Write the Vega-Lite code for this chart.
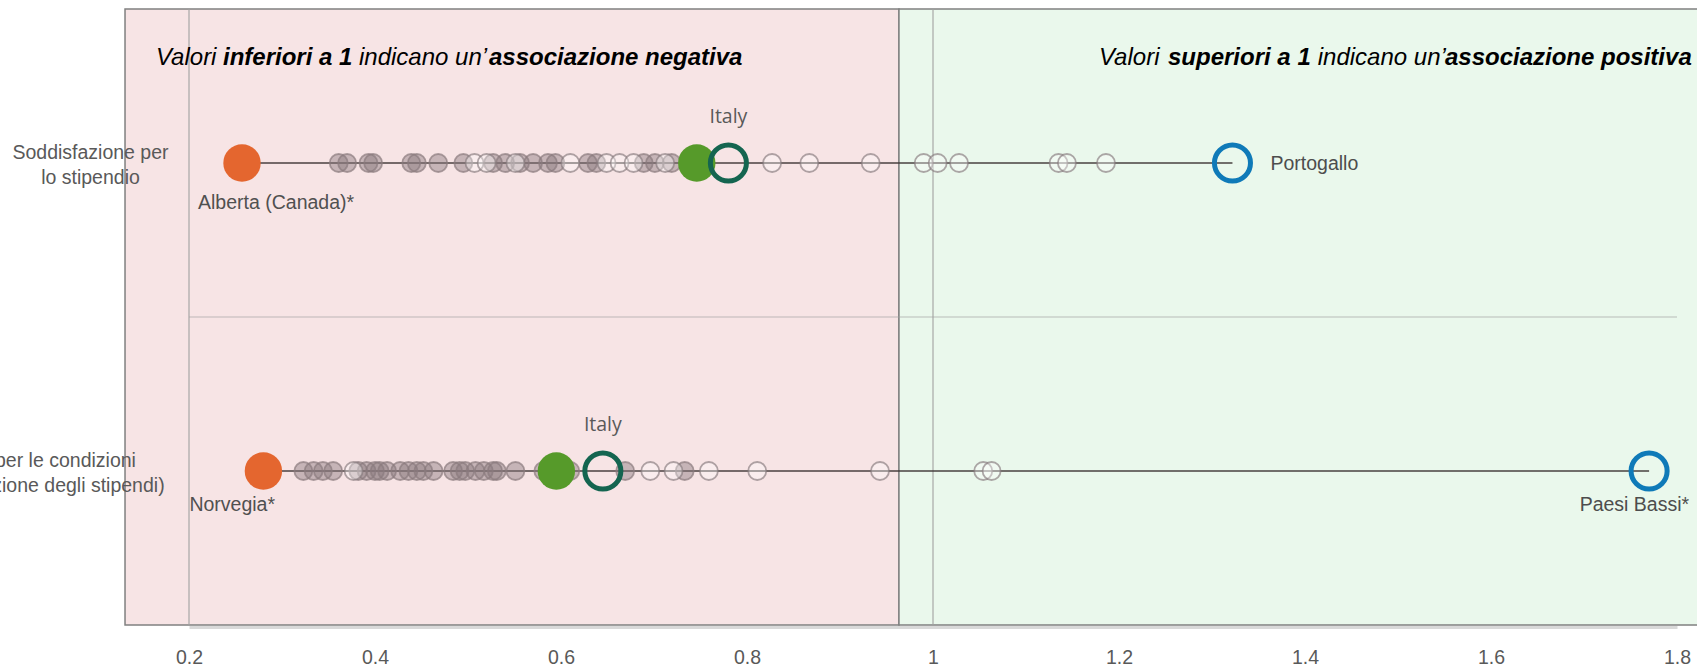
{
  "$schema": "https://vega.github.io/schema/vega-lite/v6.json",
  "width": 1488,
  "height": 616,
  "autosize": {"type": "none"},
  "padding": {"left": 189, "top": 9, "right": 20, "bottom": 43},
  "background": "white",
  "config": {"view": {"stroke": null}, "font": "Liberation Sans"},
  "datasets": {
    "zone": [
      {"zona": "negativa", "da": 0.1312, "a": 0.9634},
      {"zona": "positiva", "da": 0.9634, "a": 1.84}
    ],
    "griglia": [{"v": 0.2}, {"v": 1}],
    "punti": [
      {"riga": "stipendio", "paese": "Alberta (Canada)*", "valore": 0.257, "tipo": "min"},
      {"riga": "stipendio", "paese": "Media OCSE", "valore": 0.746, "tipo": "media"},
      {"riga": "stipendio", "paese": "Italy", "valore": 0.780, "tipo": "italy"},
      {"riga": "stipendio", "paese": "Portogallo", "valore": 1.322, "tipo": "max"},
      {"riga": "stipendio", "valore": 0.361, "tipo": "sig"},
      {"riga": "stipendio", "valore": 0.370, "tipo": "sig"},
      {"riga": "stipendio", "valore": 0.393, "tipo": "sig"},
      {"riga": "stipendio", "valore": 0.398, "tipo": "sig"},
      {"riga": "stipendio", "valore": 0.439, "tipo": "sig"},
      {"riga": "stipendio", "valore": 0.445, "tipo": "sig"},
      {"riga": "stipendio", "valore": 0.468, "tipo": "sig"},
      {"riga": "stipendio", "valore": 0.495, "tipo": "sig"},
      {"riga": "stipendio", "valore": 0.527, "tipo": "sig"},
      {"riga": "stipendio", "valore": 0.540, "tipo": "sig"},
      {"riga": "stipendio", "valore": 0.556, "tipo": "sig"},
      {"riga": "stipendio", "valore": 0.570, "tipo": "sig"},
      {"riga": "stipendio", "valore": 0.586, "tipo": "sig"},
      {"riga": "stipendio", "valore": 0.594, "tipo": "sig"},
      {"riga": "stipendio", "valore": 0.629, "tipo": "sig"},
      {"riga": "stipendio", "valore": 0.638, "tipo": "sig"},
      {"riga": "stipendio", "valore": 0.689, "tipo": "sig"},
      {"riga": "stipendio", "valore": 0.701, "tipo": "sig"},
      {"riga": "stipendio", "valore": 0.719, "tipo": "sig"},
      {"riga": "stipendio", "valore": 0.507, "tipo": "ns"},
      {"riga": "stipendio", "valore": 0.520, "tipo": "ns"},
      {"riga": "stipendio", "valore": 0.551, "tipo": "ns"},
      {"riga": "stipendio", "valore": 0.610, "tipo": "ns"},
      {"riga": "stipendio", "valore": 0.649, "tipo": "ns"},
      {"riga": "stipendio", "valore": 0.663, "tipo": "ns"},
      {"riga": "stipendio", "valore": 0.678, "tipo": "ns"},
      {"riga": "stipendio", "valore": 0.712, "tipo": "ns"},
      {"riga": "stipendio", "valore": 0.827, "tipo": "ns"},
      {"riga": "stipendio", "valore": 0.867, "tipo": "ns"},
      {"riga": "stipendio", "valore": 0.933, "tipo": "ns"},
      {"riga": "stipendio", "valore": 0.990, "tipo": "ns"},
      {"riga": "stipendio", "valore": 1.005, "tipo": "ns"},
      {"riga": "stipendio", "valore": 1.028, "tipo": "ns"},
      {"riga": "stipendio", "valore": 1.135, "tipo": "ns"},
      {"riga": "stipendio", "valore": 1.144, "tipo": "ns"},
      {"riga": "stipendio", "valore": 1.186, "tipo": "ns"},
      {"riga": "condizioni", "paese": "Norvegia*", "valore": 0.280, "tipo": "min"},
      {"riga": "condizioni", "paese": "Media OCSE", "valore": 0.595, "tipo": "media"},
      {"riga": "condizioni", "paese": "Italy", "valore": 0.645, "tipo": "italy"},
      {"riga": "condizioni", "paese": "Paesi Bassi*", "valore": 1.770, "tipo": "max"},
      {"riga": "condizioni", "valore": 0.323, "tipo": "sig"},
      {"riga": "condizioni", "valore": 0.334, "tipo": "sig"},
      {"riga": "condizioni", "valore": 0.344, "tipo": "sig"},
      {"riga": "condizioni", "valore": 0.355, "tipo": "sig"},
      {"riga": "condizioni", "valore": 0.382, "tipo": "sig"},
      {"riga": "condizioni", "valore": 0.391, "tipo": "sig"},
      {"riga": "condizioni", "valore": 0.400, "tipo": "sig"},
      {"riga": "condizioni", "valore": 0.405, "tipo": "sig"},
      {"riga": "condizioni", "valore": 0.413, "tipo": "sig"},
      {"riga": "condizioni", "valore": 0.427, "tipo": "sig"},
      {"riga": "condizioni", "valore": 0.436, "tipo": "sig"},
      {"riga": "condizioni", "valore": 0.445, "tipo": "sig"},
      {"riga": "condizioni", "valore": 0.452, "tipo": "sig"},
      {"riga": "condizioni", "valore": 0.463, "tipo": "sig"},
      {"riga": "condizioni", "valore": 0.484, "tipo": "sig"},
      {"riga": "condizioni", "valore": 0.491, "tipo": "sig"},
      {"riga": "condizioni", "valore": 0.497, "tipo": "sig"},
      {"riga": "condizioni", "valore": 0.508, "tipo": "sig"},
      {"riga": "condizioni", "valore": 0.517, "tipo": "sig"},
      {"riga": "condizioni", "valore": 0.527, "tipo": "sig"},
      {"riga": "condizioni", "valore": 0.531, "tipo": "sig"},
      {"riga": "condizioni", "valore": 0.551, "tipo": "sig"},
      {"riga": "condizioni", "valore": 0.581, "tipo": "sig"},
      {"riga": "condizioni", "valore": 0.610, "tipo": "sig"},
      {"riga": "condizioni", "valore": 0.669, "tipo": "sig"},
      {"riga": "condizioni", "valore": 0.733, "tipo": "sig"},
      {"riga": "condizioni", "valore": 0.377, "tipo": "ns"},
      {"riga": "condizioni", "valore": 0.696, "tipo": "ns"},
      {"riga": "condizioni", "valore": 0.721, "tipo": "ns"},
      {"riga": "condizioni", "valore": 0.759, "tipo": "ns"},
      {"riga": "condizioni", "valore": 0.811, "tipo": "ns"},
      {"riga": "condizioni", "valore": 0.943, "tipo": "ns"},
      {"riga": "condizioni", "valore": 1.054, "tipo": "ns"},
      {"riga": "condizioni", "valore": 1.063, "tipo": "ns"}
    ],
    "titoli": [
      {"riga": "stipendio", "testo": "Valori", "pos": 0.1645, "grassetto": false},
      {"riga": "stipendio", "testo": "inferiori a 1", "pos": 0.2366, "grassetto": true},
      {"riga": "stipendio", "testo": "indicano un’", "pos": 0.3828, "grassetto": false},
      {"riga": "stipendio", "testo": "associazione negativa", "pos": 0.5226, "grassetto": true},
      {"riga": "stipendio", "testo": "Valori", "pos": 1.1785, "grassetto": false},
      {"riga": "stipendio", "testo": "superiori a 1", "pos": 1.2527, "grassetto": true},
      {"riga": "stipendio", "testo": "indicano un’", "pos": 1.4137, "grassetto": false},
      {"riga": "stipendio", "testo": "associazione positiva", "pos": 1.5505, "grassetto": true}
    ]
  },
  "layer": [
    {
      "data": {"name": "zone"},
      "mark": {"type": "rect", "stroke": "#808080", "strokeWidth": 1.5},
      "encoding": {
        "x": {
          "field": "da", "type": "quantitative",
          "scale": {"domain": [0.2, 1.8], "nice": false, "zero": false},
          "axis": {
            "title": null,
            "values": [0.2, 0.4, 0.6, 0.8, 1, 1.2, 1.4, 1.6, 1.8],
            "format": "~g",
            "grid": false,
            "ticks": false,
            "domain": true,
            "domainColor": "#d9d9d9",
            "domainWidth": 3,
            "offset": 2,
            "labelFlush": false,
            "labelPadding": 21,
            "labelFont": "Liberation Sans",
            "labelFontSize": 19.5,
            "labelColor": "#595959"
          }
        },
        "x2": {"field": "a"},
        "fill": {
          "field": "zona", "type": "nominal", "legend": null,
          "scale": {"domain": ["negativa", "positiva"], "range": ["#f7e4e5", "#eaf8ec"]}
        }
      }
    },
    {
      "data": {"name": "griglia"},
      "mark": {"type": "rule", "color": "#a0a0a0", "opacity": 0.55, "strokeWidth": 2},
      "encoding": {"x": {"field": "v", "type": "quantitative"}}
    },
    {
      "data": {"values": [{"riga": "condizioni"}]},
      "mark": {"type": "rule", "color": "#a0a0a0", "opacity": 0.45, "strokeWidth": 1.5},
      "encoding": {
        "y": {
          "field": "riga", "type": "nominal", "bandPosition": 0,
          "scale": {"type": "band", "domain": ["stipendio", "condizioni"], "paddingInner": 0, "paddingOuter": 0},
          "axis": {
            "title": null,
            "zindex": 1,
            "domain": false,
            "ticks": false,
            "grid": false,
            "labelExpr": "datum.value == 'stipendio' ? ['Soddisfazione per', 'lo stipendio'] : ['Soddisfazione per le condizioni', 'di lavoro (ad eccezione degli stipendi)']",
            "labelAlign": "center",
            "labelBaseline": "middle",
            "labelLineHeight": 25,
            "labelLimit": 1000,
            "labelOffset": -10,
            "labelPadding": {"condition": {"test": "datum.value == 'condizioni'", "value": 188}, "value": 99},
            "labelFont": "Liberation Sans",
            "labelFontSize": 19.5,
            "labelColor": "#595959"
          }
        },
        "x": {"datum": 0.2},
        "x2": {"datum": 1.8}
      }
    },
    {
      "data": {"name": "punti"},
      "mark": {"type": "rule", "color": "#3d3535", "opacity": 0.7, "strokeWidth": 2},
      "encoding": {
        "y": {"field": "riga", "type": "nominal"},
        "x": {"aggregate": "min", "field": "valore", "type": "quantitative"},
        "x2": {"aggregate": "max", "field": "valore"}
      }
    },
    {
      "data": {"name": "punti"},
      "transform": [{"filter": "datum.tipo == 'sig'"}],
      "mark": {"type": "circle", "size": 324, "opacity": 1, "fill": "#8a7b7e", "fillOpacity": 0.45, "stroke": "#8a7b7e", "strokeOpacity": 0.7, "strokeWidth": 1.8},
      "encoding": {
        "y": {"field": "riga", "type": "nominal"},
        "x": {"field": "valore", "type": "quantitative"}
      }
    },
    {
      "data": {"name": "punti"},
      "transform": [{"filter": "datum.tipo == 'ns'"}],
      "mark": {"type": "circle", "size": 324, "opacity": 1, "fill": "white", "fillOpacity": 0.35, "stroke": "#857a7c", "strokeOpacity": 0.65, "strokeWidth": 1.8},
      "encoding": {
        "y": {"field": "riga", "type": "nominal"},
        "x": {"field": "valore", "type": "quantitative"}
      }
    },
    {
      "data": {"name": "punti"},
      "transform": [{"filter": "datum.tipo == 'min' || datum.tipo == 'media'"}],
      "mark": {"type": "circle", "size": 1400, "opacity": 1},
      "encoding": {
        "y": {"field": "riga", "type": "nominal"},
        "x": {"field": "valore", "type": "quantitative"},
        "color": {
          "field": "tipo", "type": "nominal", "legend": null,
          "scale": {"domain": ["min", "media", "italy", "max"], "range": ["#e4662f", "#569a2a", "#146550", "#0f7ab8"]}
        }
      }
    },
    {
      "data": {"name": "punti"},
      "transform": [{"filter": "datum.tipo == 'italy' || datum.tipo == 'max'"}],
      "mark": {"type": "point", "filled": false, "size": 1300, "strokeWidth": 5, "opacity": 1},
      "encoding": {
        "y": {"field": "riga", "type": "nominal"},
        "x": {"field": "valore", "type": "quantitative"},
        "color": {"field": "tipo", "type": "nominal", "legend": null}
      }
    },
    {
      "data": {"name": "punti"},
      "transform": [{"filter": "datum.paese == 'Italy'"}],
      "mark": {"type": "text", "font": "Open Sans", "fontSize": 19.5, "color": "#595959", "align": "center", "baseline": "middle", "dy": -46},
      "encoding": {
        "y": {"field": "riga", "type": "nominal"},
        "x": {"field": "valore", "type": "quantitative"},
        "text": {"field": "paese"}
      }
    },
    {
      "data": {"name": "punti"},
      "transform": [{"filter": "datum.paese == 'Alberta (Canada)*'"}],
      "mark": {"type": "text", "fontSize": 19.5, "color": "#505050", "align": "left", "baseline": "middle", "dx": -44, "dy": 40},
      "encoding": {
        "y": {"field": "riga", "type": "nominal"},
        "x": {"field": "valore", "type": "quantitative"},
        "text": {"field": "paese"}
      }
    },
    {
      "data": {"name": "punti"},
      "transform": [{"filter": "datum.paese == 'Norvegia*'"}],
      "mark": {"type": "text", "fontSize": 19.5, "color": "#505050", "align": "left", "baseline": "middle", "dx": -74, "dy": 34},
      "encoding": {
        "y": {"field": "riga", "type": "nominal"},
        "x": {"field": "valore", "type": "quantitative"},
        "text": {"field": "paese"}
      }
    },
    {
      "data": {"name": "punti"},
      "transform": [{"filter": "datum.paese == 'Portogallo'"}],
      "mark": {"type": "text", "fontSize": 19.5, "color": "#4d4d4d", "align": "left", "baseline": "middle", "dx": 38, "dy": 1},
      "encoding": {
        "y": {"field": "riga", "type": "nominal"},
        "x": {"field": "valore", "type": "quantitative"},
        "text": {"field": "paese"}
      }
    },
    {
      "data": {"name": "punti"},
      "transform": [{"filter": "datum.paese == 'Paesi Bassi*'"}],
      "mark": {"type": "text", "fontSize": 19.5, "color": "#4d4d4d", "align": "right", "baseline": "middle", "dx": 40, "dy": 34},
      "encoding": {
        "y": {"field": "riga", "type": "nominal"},
        "x": {"field": "valore", "type": "quantitative"},
        "text": {"field": "paese"}
      }
    },
    {
      "data": {"name": "titoli"},
      "transform": [{"filter": "!datum.grassetto"}],
      "mark": {"type": "text", "fontSize": 24, "fontStyle": "italic", "fontWeight": "normal", "color": "#000000", "align": "left", "baseline": "middle"},
      "encoding": {
        "y": {"field": "riga", "type": "nominal", "bandPosition": 0.158},
        "x": {"field": "pos", "type": "quantitative"},
        "text": {"field": "testo"}
      }
    },
    {
      "data": {"name": "titoli"},
      "transform": [{"filter": "datum.grassetto"}],
      "mark": {"type": "text", "fontSize": 24, "fontStyle": "italic", "fontWeight": "bold", "color": "#000000", "align": "left", "baseline": "middle"},
      "encoding": {
        "y": {"field": "riga", "type": "nominal", "bandPosition": 0.158},
        "x": {"field": "pos", "type": "quantitative"},
        "text": {"field": "testo"}
      }
    }
  ]
}
